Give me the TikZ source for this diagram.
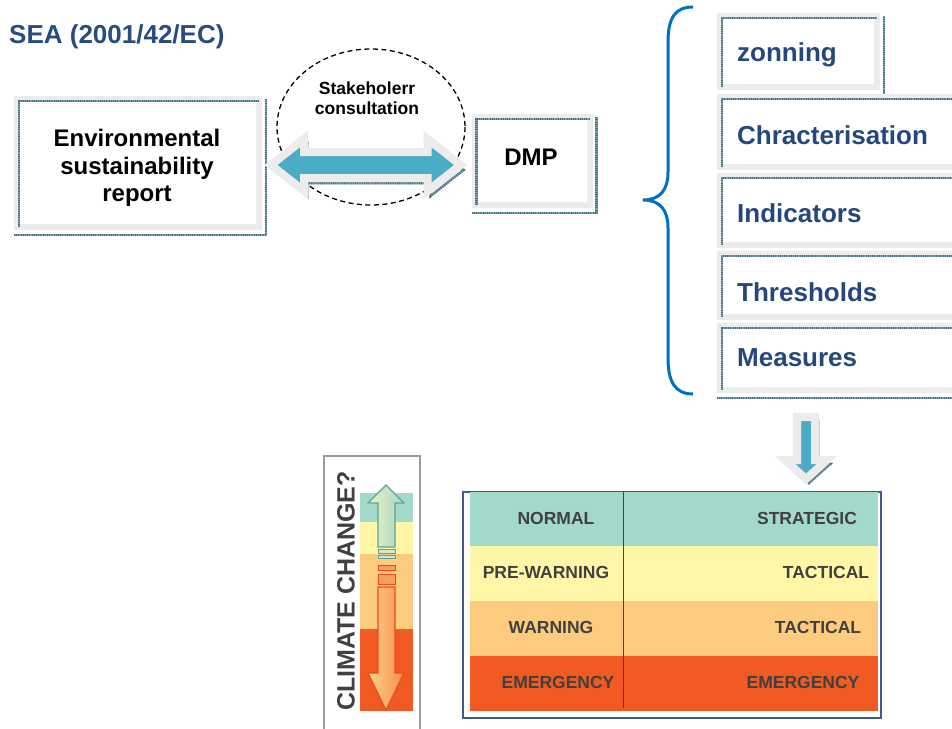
\documentclass[tikz,border=0pt]{standalone}
\usepackage{fontspec}
\setmainfont{Liberation Sans}
\usetikzlibrary{calc,positioning}

\definecolor{seablue}{RGB}{40,75,130}
\definecolor{listblue}{RGB}{36,72,125}
\definecolor{bracecol}{RGB}{0,112,192}
\definecolor{arrowblue}{RGB}{75,172,198}
\definecolor{framegrey}{RGB}{236,236,236}
\definecolor{hatchbase}{RGB}{125,162,172}
\definecolor{hatchteal}{RGB}{70,110,125}
\definecolor{lvnormal}{RGB}{163,217,203}
\definecolor{lvpre}{RGB}{255,246,168}
\definecolor{lvwarn}{RGB}{253,203,125}
\definecolor{lvemerg}{RGB}{241,90,34}
\definecolor{tabframe}{RGB}{60,90,140}
\definecolor{tabline}{RGB}{50,60,160}
\definecolor{darktext}{RGB}{64,64,64}
\definecolor{ccframe}{RGB}{160,152,148}

%枠の影線
\newcommand{\panelhatch}[1]{%
  \draw[tealhatch] ($(#1.south west)+(5,-3)$) -- ($(#1.north west)+(5,5)$) -- ($(#1.north east)+(-3,5)$);
  \draw[tealhatch] ($(#1.south west)+(0,5)$) -- ($(#1.south east)+(4,5)$) -- ($(#1.north east)+(4,3)$);
}

\begin{document}
\begin{tikzpicture}[x=1pt,y=-1pt,
  panel/.style={fill=white,draw=framegrey,line width=6pt,inner sep=0pt},
  tealhatch/.style={draw=hatchbase,line width=2.5pt,
    postaction={draw=hatchteal,line width=2.5pt,dash pattern=on 0.8pt off 1.4pt}},
  blockarrow/.style={fill=arrowblue,draw=framegrey,line width=8pt,line join=miter},
  boxtext/.style={font=\fontsize{24}{27.5}\selectfont\bfseries,align=center},
  listtext/.style={font=\fontsize{26}{30}\selectfont\bfseries,text=listblue,inner sep=0pt},
  tabtext/.style={font=\fontsize{17.5}{20}\selectfont\bfseries,text=darktext,inner sep=0pt},
]
  \useasboundingbox (0,0) rectangle (952,728);
  \clip (0,0) rectangle (952,728);

  %タイトル
  \node[font=\fontsize{26}{30}\selectfont\bfseries,text=seablue,anchor=west,inner sep=0pt] (sea) at (9,37) {SEA (2001/42/EC)};

  %報告書とDMP
  \node[panel,minimum width=242,minimum height=128] (esr) at (138,163) {};
  \panelhatch{esr}
  \node[boxtext] (esrtext) at (137,168) {Environmental\\sustainability\\report};

  \node[panel,minimum width=115,minimum height=88] (dmp) at (532,161) {};
  \panelhatch{dmp}
  \node[boxtext] (dmptext) at (531,157) {DMP};

  %協議の円
  \draw[line width=1.3pt,dash pattern=on 5pt off 3.5pt] (371,127) ellipse (94 and 78);
  \node[font=\fontsize{17.5}{20.5}\selectfont\bfseries,align=center] (stake) at (367,98) {Stakeholerr\\consultation};

  %両矢印
  \coordinate (al) at ($(esr.east)+(9,2)$);
  \coordinate (ar) at ($(al -| dmp.west)+(-11,0)$);
  \begin{scope}[transform canvas={shift={(3,5)}}]
    \draw[tealhatch] (al) -- ($(al)+(33,-26)$) -- ($(al)+(33,-13)$) -- ($(ar)+(-33,-13)$) -- ($(ar)+(-33,-26)$)
      -- (ar) -- ($(ar)+(-33,26)$) -- ($(ar)+(-33,13)$) -- ($(al)+(33,13)$) -- ($(al)+(33,26)$) -- cycle;
  \end{scope}
  \draw[blockarrow] (al) -- ($(al)+(33,-26)$) -- ($(al)+(33,-13)$) -- ($(ar)+(-33,-13)$) -- ($(ar)+(-33,-26)$)
    -- (ar) -- ($(ar)+(-33,26)$) -- ($(ar)+(-33,13)$) -- ($(al)+(33,13)$) -- ($(al)+(33,26)$) -- cycle;

  %中括弧
  \draw[bracecol,line width=3pt] (693,7) .. controls (675,7) and (668,18) .. (668,42) -- (668,172)
    .. controls (668,190) and (660,200) .. (643,200) .. controls (660,200) and (668,210) .. (668,228)
    -- (668,358) .. controls (668,382) and (675,394) .. (693,394);

  %項目の箱
  \node[panel,anchor=north west,minimum width=157,minimum height=71] (zon) at (717,13) {};
  \panelhatch{zon}
  \node[listtext,anchor=mid west] (zon-t) at (737,59) {zonning};
  \foreach \id/\txt/\ytop/\ybot/\ty in {chr/Chracterisation/94/164/142, ind/Indicators/173/242/220,
      thr/Thresholds/251/314/299, mea/Measures/323/387/364} {
    \node[panel,anchor=north west,minimum width=300,minimum height=\ybot-\ytop] (\id) at (717,\ytop) {};
    \panelhatch{\id}
    \node[listtext,anchor=mid west] (\id-t) at (737,\ty) {\txt};
  }

  %下向き矢印
  \coordinate (dtop) at (806,417);
  \coordinate (dtip) at (806,479);
  \begin{scope}[transform canvas={shift={(3,4)}}]
    \draw[tealhatch] ($(dtop)+(-9,0)$) -- ($(dtop)+(9,0)$) -- ($(dtip)+(9,-19)$) -- ($(dtip)+(21,-19)$) -- (dtip)
      -- ($(dtip)+(-21,-19)$) -- ($(dtip)+(-9,-19)$) -- cycle;
  \end{scope}
  \draw[blockarrow] ($(dtop)+(-9,0)$) -- ($(dtop)+(9,0)$) -- ($(dtip)+(9,-19)$) -- ($(dtip)+(21,-19)$) -- (dtip)
    -- ($(dtip)+(-21,-19)$) -- ($(dtip)+(-9,-19)$) -- cycle;

  %表
  \node[draw=tabframe,line width=2pt,minimum width=418,minimum height=226,inner sep=0pt] (tab) at (672,605) {};
  \foreach \ytop/\ybot/\col/\lt/\lx/\rt/\rx [count=\i] in {
      492/546/lvnormal/NORMAL/556/STRATEGIC/807,
      546/601/lvpre/PRE-WARNING/546/TACTICAL/826,
      601/656/lvwarn/WARNING/551/TACTICAL/818,
      656/711/lvemerg/EMERGENCY/558/EMERGENCY/803} {
    \fill[\col] (470,\ytop) rectangle (878,\ybot);
    \node[tabtext] (lv\i) at (\lx,{(\ytop+\ybot)/2-1}) {\lt};
    \node[tabtext] (ac\i) at (\rx,{(\ytop+\ybot)/2-1}) {\rt};
  }
  \draw[tabline,line width=1pt] (tab.north -| 623,0) -- (623,708);

  %気候変動の帯
  \fill[lvnormal] (360,493) rectangle (413,522);
  \fill[lvpre] (360,522) rectangle (413,554);
  \fill[lvwarn] (360,554) rectangle (413,629);
  \fill[lvemerg] (360,629) rectangle (413,711);
  \draw[ccframe,line width=2pt] (324,456) rectangle (420,745);
  \node[rotate=90,font=\fontsize{25}{30}\selectfont\bfseries,text=darktext] (cc) at (346,591) {CLIMATE CHANGE?};

  %上下の矢印
  \draw[draw={rgb,255:red,90;green,165;blue,150},line width=1.2pt,left color={rgb,255:red,236;green,240;blue,196},right color={rgb,255:red,170;green,214;blue,196}]
    (386,485) -- (404,503) -- (395,503) -- (395,547) -- (378,547) -- (378,503) -- (368,503) -- cycle;
  \draw[draw={rgb,255:red,90;green,165;blue,150},line width=1pt,fill={rgb,255:red,210;green,232;blue,214}] (378,549) rectangle (395,553);
  \draw[draw={rgb,255:red,90;green,165;blue,150},line width=1pt,fill={rgb,255:red,210;green,232;blue,214}] (378,555) rectangle (395,558);
  \draw[draw={rgb,255:red,235;green,75;blue,35},line width=1pt,fill={rgb,255:red,248;green,160;blue,90}] (378,565) rectangle (395,570);
  \draw[draw={rgb,255:red,235;green,75;blue,35},line width=1pt,fill={rgb,255:red,248;green,160;blue,90}] (378,574) rectangle (395,584);
  \draw[draw={rgb,255:red,235;green,75;blue,35},line width=1.2pt,left color={rgb,255:red,252;green,212;blue,140},right color={rgb,255:red,246;green,140;blue,72}]
    (378,587) -- (395,587) -- (395,673) -- (404,673) -- (386,710) -- (368,673) -- (378,673) -- cycle;
\end{tikzpicture}
\end{document}
